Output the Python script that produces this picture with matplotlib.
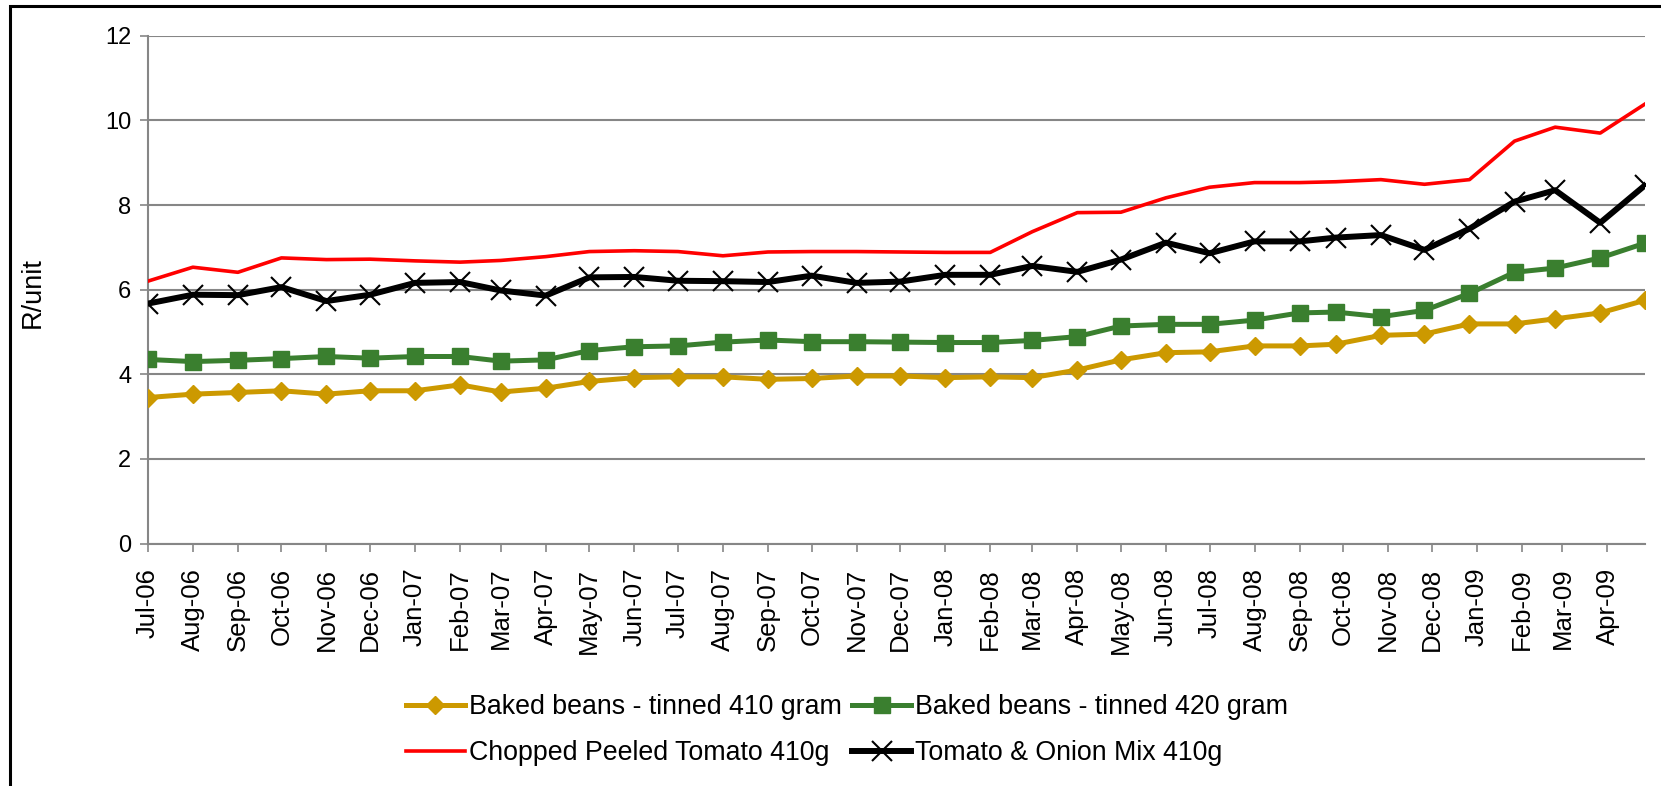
import matplotlib
matplotlib.use("Agg")
import matplotlib.pyplot as plt
import matplotlib.dates as mdates
import pandas as pd
from matplotlib.patches import Rectangle


# survey dates (monthly, later ones taken near month end)
dates = ["2006-07-01", "2006-08-01", "2006-09-01", "2006-10-01", "2006-11-01",
         "2006-12-01", "2007-01-01", "2007-02-01", "2007-03-01", "2007-04-01",
         "2007-05-01", "2007-06-01", "2007-07-01", "2007-08-01", "2007-09-01",
         "2007-10-01", "2007-11-01", "2007-12-01", "2008-01-01", "2008-02-01",
         "2008-03-01", "2008-04-01", "2008-05-01", "2008-06-01", "2008-07-01",
         "2008-08-01", "2008-09-01", "2008-09-26", "2008-10-27", "2008-11-26",
         "2008-12-27", "2009-01-27", "2009-02-24", "2009-03-27", "2009-04-27"]

beans_410 = [3.45, 3.53, 3.57, 3.61, 3.53, 3.61, 3.61, 3.75, 3.58, 3.67,
             3.83, 3.92, 3.94, 3.94, 3.88, 3.90, 3.96, 3.96, 3.92, 3.94,
             3.92, 4.10, 4.34, 4.51, 4.53, 4.67, 4.67, 4.71, 4.92, 4.95,
             5.19, 5.19, 5.31, 5.45, 5.75]
beans_420 = [4.35, 4.30, 4.33, 4.37, 4.42, 4.38, 4.42, 4.42, 4.31, 4.34,
             4.56, 4.65, 4.67, 4.76, 4.81, 4.77, 4.77, 4.76, 4.75, 4.75,
             4.80, 4.89, 5.14, 5.18, 5.18, 5.28, 5.45, 5.47, 5.36, 5.51,
             5.91, 6.41, 6.51, 6.75, 7.10]
chopped_tomato = [6.20, 6.53, 6.41, 6.75, 6.71, 6.72, 6.68, 6.65, 6.69, 6.78,
                  6.90, 6.92, 6.90, 6.80, 6.89, 6.90, 6.90, 6.89, 6.88, 6.88,
                  7.37, 7.82, 7.83, 8.17, 8.42, 8.53, 8.53, 8.55, 8.60, 8.49,
                  8.60, 9.51, 9.84, 9.70, 10.39]
tomato_onion = [5.67, 5.88, 5.87, 6.06, 5.73, 5.88, 6.16, 6.18, 5.98, 5.86,
                6.29, 6.30, 6.21, 6.20, 6.18, 6.33, 6.16, 6.19, 6.35, 6.35,
                6.56, 6.42, 6.71, 7.11, 6.86, 7.14, 7.14, 7.23, 7.29, 6.94,
                7.44, 8.08, 8.35, 7.58, 8.47]

labels = ["Baked beans - tinned 410 gram", "Baked beans - tinned 420 gram",
          "Chopped Peeled Tomato 410g", "Tomato & Onion Mix 410g"]

x = pd.to_datetime(dates)
ticks = pd.date_range("2006-07-01", "2009-04-01", freq="MS")

plt.rcParams['font.family'] = ['Liberation Sans', 'DejaVu Sans']
grey = '#868686'

fig = plt.figure(figsize=(16.61, 7.86), dpi=100)
ax = fig.add_axes([0.089, 0.3085, 0.9015, 0.646])

l1, = ax.plot(x, beans_410, color='#CC9900', lw=3.6, marker='D', ms=9,
              mec='#CC9900', zorder=3)
l2, = ax.plot(x, beans_420, color='#3A7F2F', lw=3.6, marker='s', ms=12,
              mec='#3A7F2F', zorder=3)
l3, = ax.plot(x, chopped_tomato, color='#FF0000', lw=2.6, zorder=3)
l4, = ax.plot(x, tomato_onion, color='black', lw=4.3, marker='x', ms=15,
              mew=1.5, zorder=4)

ax.set_ylim(0, 12)
ax.set_yticks(range(0, 13, 2))
ax.set_xlim(x[0], x[-1])
ax.set_xticks(ticks)
ax.xaxis.set_major_formatter(mdates.DateFormatter('%b-%y'))
ax.grid(axis='y', color=grey, lw=1.5)
ax.set_axisbelow(True)

for s in ['top', 'right']:
    ax.spines[s].set_visible(False)
for s in ['left', 'bottom']:
    ax.spines[s].set_color(grey)
    ax.spines[s].set_linewidth(1.5)

ax.tick_params(axis='y', colors=grey, labelcolor='black', labelsize=17,
               length=5.5, width=1.2, pad=6.5)
ax.tick_params(axis='x', colors=grey, labelcolor='black', labelsize=18.5,
               length=5.5, width=1.2, pad=12, labelrotation=90)

ax.set_ylabel('R/unit', fontsize=19.5)
ax.yaxis.set_label_coords(-0.068, 0.495)

fig.legend([l1, l3, l2, l4], [labels[0], labels[2], labels[1], labels[3]],
           ncol=2, loc='center', bbox_to_anchor=(0.51, 0.071),
           frameon=False, handlelength=2.2, handletextpad=0.15,
           columnspacing=0.4, labelspacing=0.75,
           prop={'size': 19.3})

# outer chart border
fig.patches.append(Rectangle((10 / 1661, -0.05), 1.1, 1 - 6 / 786 + 0.05,
                             transform=fig.transFigure, fill=False,
                             ec='black', lw=2.2))

fig.savefig('out.png', dpi=100)
